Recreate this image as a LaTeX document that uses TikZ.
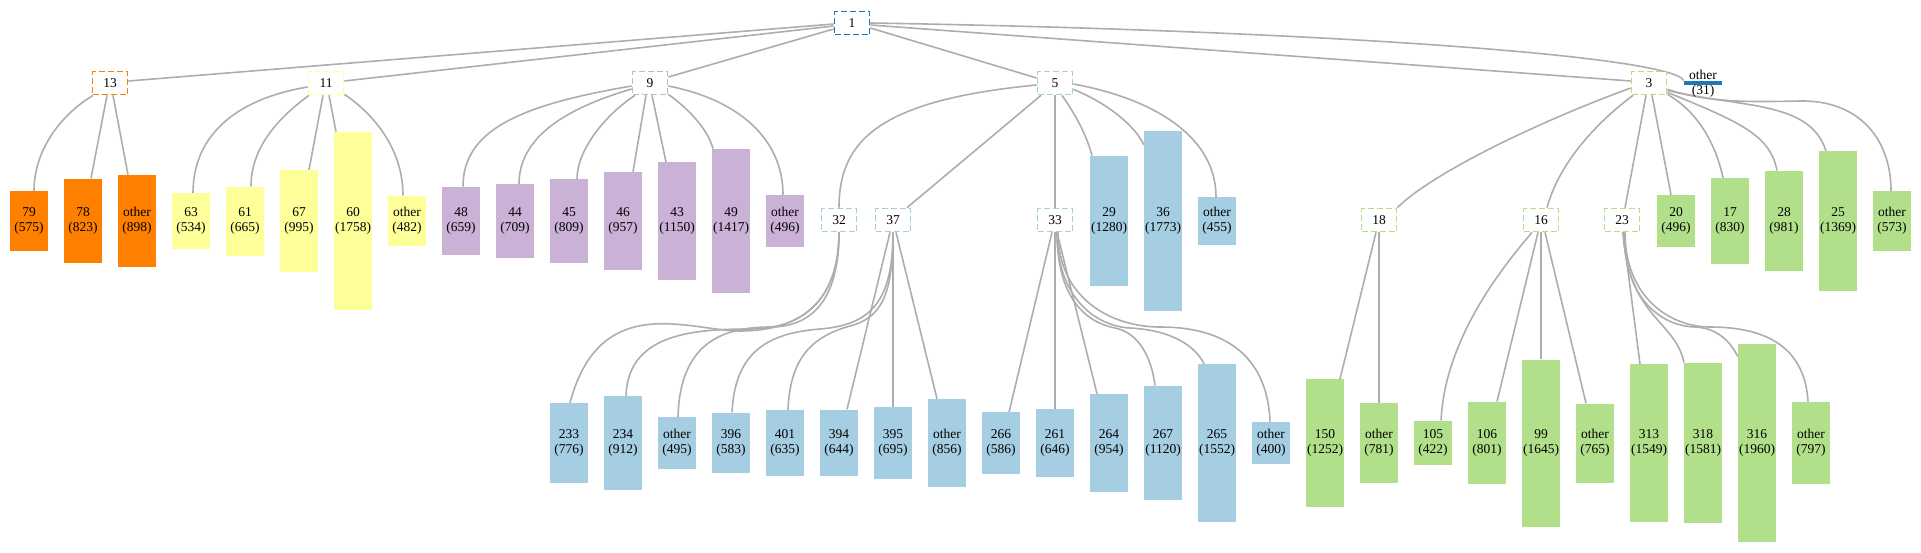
\documentclass[tikz,border=0pt]{standalone}
\usepackage{fontspec}
\setmainfont{Liberation Serif}
\usetikzlibrary{backgrounds}
\definecolor{cOr}{HTML}{FF7F00}
\definecolor{cYe}{HTML}{FFFF99}
\definecolor{cPu}{HTML}{CAB2D6}
\definecolor{cLb}{HTML}{A6CEE3}
\definecolor{cGr}{HTML}{B2DF8A}
\definecolor{cDb}{HTML}{1F78B4}
\definecolor{cEdge}{HTML}{ADADAD}
\newcommand\lf[6]{\node[leafbox, fill=#5, minimum height={0.1*#4+2.5}] (#1) at (#2,#3) {#6\\(#4)};}
\newcommand\grp[5]{\node[grpbox, draw=#4] (#1) at (#2,#3) {#5};}
\begin{document}
\begin{tikzpicture}[x=1pt,y=-1pt,
  font=\fontsize{13.5}{15}\selectfont,
  leafbox/.style={rectangle, inner sep=0pt, minimum width=38pt, align=center},
  grpbox/.style={rectangle, fill=white, line width=1.7pt, dash pattern=on 6pt off 3pt, minimum width=35pt, minimum height=23pt, inner sep=0pt},
  edge/.style={draw=cEdge, line width=1.6pt}]
\useasboundingbox (0,0) rectangle (1921,552);

% group nodes
\grp{n1}{852}{23}{cDb}{1}
\grp{n13}{110}{83}{cOr}{13}
\grp{n11}{326}{83}{cYe}{11}
\grp{n9}{650}{83}{cPu}{9}
\grp{n5}{1055}{83}{cLb}{5}
\grp{n3}{1649}{83}{cGr}{3}
\grp{n32}{839}{220}{cLb}{32}
\grp{n37}{893}{220}{cLb}{37}
\grp{n33}{1055}{220}{cLb}{33}
\grp{n18}{1379}{220}{cGr}{18}
\grp{n16}{1541}{220}{cGr}{16}
\grp{n23}{1622}{220}{cGr}{23}

% other (31)
\node[leafbox, fill=cDb, minimum height=4.5pt] (o31) at (1703,83) {};
\node[inner sep=0pt, align=center] (t31) at (1703,84) {other\\(31)};

% row 1 leaves
\lf{l79}{29}{221}{575}{cOr}{79}
\lf{l78}{83}{221}{823}{cOr}{78}
\lf{o13}{137}{221}{898}{cOr}{other}
\lf{l63}{191}{221}{534}{cYe}{63}
\lf{l61}{245}{221}{665}{cYe}{61}
\lf{l67}{299}{221}{995}{cYe}{67}
\lf{l60}{353}{221}{1758}{cYe}{60}
\lf{o11}{407}{221}{482}{cYe}{other}
\lf{l48}{461}{221}{659}{cPu}{48}
\lf{l44}{515}{221}{709}{cPu}{44}
\lf{l45}{569}{221}{809}{cPu}{45}
\lf{l46}{623}{221}{957}{cPu}{46}
\lf{l43}{677}{221}{1150}{cPu}{43}
\lf{l49}{731}{221}{1417}{cPu}{49}
\lf{o9}{785}{221}{496}{cPu}{other}
\lf{l29}{1109}{221}{1280}{cLb}{29}
\lf{l36}{1163}{221}{1773}{cLb}{36}
\lf{o5}{1217}{221}{455}{cLb}{other}
\lf{l20}{1676}{221}{496}{cGr}{20}
\lf{l17}{1730}{221}{830}{cGr}{17}
\lf{l28}{1784}{221}{981}{cGr}{28}
\lf{l25}{1838}{221}{1369}{cGr}{25}
\lf{o3}{1892}{221}{573}{cGr}{other}

% row 2 leaves
\lf{l233}{569}{443}{776}{cLb}{233}
\lf{l234}{623}{443}{912}{cLb}{234}
\lf{o32}{677}{443}{495}{cLb}{other}
\lf{l396}{731}{443}{583}{cLb}{396}
\lf{l401}{785}{443}{635}{cLb}{401}
\lf{l394}{839}{443}{644}{cLb}{394}
\lf{l395}{893}{443}{695}{cLb}{395}
\lf{o37}{947}{443}{856}{cLb}{other}
\lf{l266}{1001}{443}{586}{cLb}{266}
\lf{l261}{1055}{443}{646}{cLb}{261}
\lf{l264}{1109}{443}{954}{cLb}{264}
\lf{l267}{1163}{443}{1120}{cLb}{267}
\lf{l265}{1217}{443}{1552}{cLb}{265}
\lf{o33}{1271}{443}{400}{cLb}{other}
\lf{l150}{1325}{443}{1252}{cGr}{150}
\lf{o18}{1379}{443}{781}{cGr}{other}
\lf{l105}{1433}{443}{422}{cGr}{105}
\lf{l106}{1487}{443}{801}{cGr}{106}
\lf{l99}{1541}{443}{1645}{cGr}{99}
\lf{o16}{1595}{443}{765}{cGr}{other}
\lf{l313}{1649}{443}{1549}{cGr}{313}
\lf{l318}{1703}{443}{1581}{cGr}{318}
\lf{l316}{1757}{443}{1960}{cGr}{316}
\lf{o23}{1811}{443}{797}{cGr}{other}

\begin{scope}[on background layer]
% root edges
\draw[edge] ([yshift=-1pt]n1.west) -- ([yshift=2pt]n13.east);
\draw[edge] ([yshift=-3pt]n1.west) -- ([yshift=2pt]n11.east);
\draw[edge] ([yshift=-6pt]n1.west) -- ([yshift=6pt]n9.east);
\draw[edge] ([yshift=-5pt]n1.east) -- ([yshift=5pt]n5.west);
\draw[edge] ([yshift=-2pt]n1.east) -- ([yshift=2pt]n3.west);
\draw[edge] (n1.east) .. controls (1300,30) and (1670,55) .. (o31.north west);
% 13
\draw[edge] ([xshift=-17pt]n13.south) .. controls +(-33,20) and +(0,-40) .. ([xshift=5pt]l79.north);
\draw[edge] ([xshift=-3pt]n13.south) -- ([xshift=8pt]l78.north);
\draw[edge] ([xshift=3pt]n13.south) -- ([xshift=-9pt]o13.north);
% 11
\draw[edge] ([yshift=-4pt]n11.west) .. controls (230,100) and (193,140) .. ([xshift=2pt]l63.north);
\draw[edge] ([xshift=-17pt]n11.south) .. controls (275,120) and (251,150) .. ([xshift=6pt]l61.north);
\draw[edge] ([xshift=-3pt]n11.south) -- ([xshift=10pt]l67.north);
\draw[edge] ([xshift=3pt]n11.south) -- ([xshift=-17pt]l60.north);
\draw[edge] ([yshift=1pt]n11.south east) .. controls (375,115) and (403,150) .. ([xshift=-4pt]o11.north);
% 9
\draw[edge] ([yshift=-3pt]n9.west) .. controls (520,105) and (463,130) .. ([xshift=2pt]l48.north);
\draw[edge] ([yshift=-6pt]n9.west) .. controls (560,110) and (519,140) .. ([xshift=4pt]l44.north);
\draw[edge] ([xshift=-15pt]n9.south) .. controls (605,115) and (577,150) .. ([xshift=8pt]l45.north);
\draw[edge] ([xshift=-4pt]n9.south) -- ([xshift=10pt]l46.north);
\draw[edge] ([xshift=2pt]n9.south) -- ([xshift=-11pt]l43.north);
\draw[edge] ([yshift=1pt]n9.south east) .. controls (690,110) and (708,130) .. ([xshift=-18pt]l49.north);
\draw[edge] ([yshift=-3pt]n9.east) .. controls (740,100) and (783,140) .. ([xshift=-2pt]o9.north);
% 5
\draw[edge] ([yshift=-2pt]n5.west) .. controls (880,100) and (839,140) .. (n32.north);
\draw[edge] ([xshift=-14pt]n5.south) -- ([xshift=14pt]n37.north);
\draw[edge] (n5.south) -- (n33.north);
\draw[edge] ([xshift=7pt]n5.south) .. controls (1072,110) and (1085,130) .. ([xshift=-17pt]l29.north);
\draw[edge] ([yshift=6pt]n5.south east) .. controls (1105,102) and (1135,125) .. ([yshift=-14pt]l36.north west);
\draw[edge] ([yshift=-1pt]n5.east) .. controls (1160,100) and (1216,140) .. ([xshift=-1pt]o5.north);
% 3
\draw[edge] ([yshift=-5pt]n3.west) .. controls (1530,125) and (1430,175) .. (n18.north east);
\draw[edge] ([xshift=-16pt]n3.south) .. controls (1600,120) and (1560,160) .. ([xshift=6pt]n16.north);
\draw[edge] ([xshift=-3pt]n3.south) -- ([xshift=3pt]n23.north);
\draw[edge] ([xshift=3pt]n3.south) -- ([xshift=-5pt]l20.north);
\draw[edge] ([yshift=1pt]n3.south east) .. controls (1695,110) and (1715,140) .. ([xshift=-7pt]l17.north);
\draw[edge] ([yshift=3pt]n3.south east) .. controls (1740,122) and (1770,135) .. ([xshift=-7pt]l28.north);
\draw[edge] ([yshift=5pt]n3.south east) .. controls (1740,108) and (1810,100) .. ([xshift=-12pt]l25.north);
\draw[edge] ([yshift=6pt]n3.south east) .. controls (1710,103) and (1750,102) .. (1800,101) .. controls (1860,100) and (1891,140) .. ([xshift=-1pt]o3.north);
% 32
\draw[edge] (n32.south) .. controls +(0,70) and (800,331) .. (740,331) .. controls (690,331) and (600,290) .. ([xshift=1pt]l233.north);
\draw[edge] (n32.south) .. controls +(0,70) and (800,329) .. (750,329) .. controls (690,329) and (628,335) .. ([xshift=3pt]l234.north);
\draw[edge] (n32.south) .. controls +(0,70) and (810,327) .. (770,327) .. controls (720,327) and (680,345) .. ([xshift=1pt]o32.north);
% 37
\draw[edge] (n37.south) .. controls +(0,70) and (870,325) .. (820,329) .. controls (770,333) and (735,350) .. ([xshift=1pt]l396.north);
\draw[edge] (n37.south) .. controls +(0,65) and (880,318) .. (850,326) .. controls (810,337) and (790,360) .. ([xshift=3pt]l401.north);
\draw[edge] ([xshift=-3pt]n37.south) -- ([xshift=8pt]l394.north);
\draw[edge] (n37.south) -- (l395.north);
\draw[edge] ([xshift=3pt]n37.south) -- ([xshift=-10pt]o37.north);
% 33
\draw[edge] ([xshift=-3pt]n33.south) -- ([xshift=8pt]l266.north);
\draw[edge] (n33.south) -- (l261.north);
\draw[edge] ([xshift=2pt]n33.south) -- ([xshift=-12pt]l264.north);
\draw[edge] ([xshift=2pt]n33.south) .. controls +(0,65) and (1085,322) .. (1115,328) .. controls (1140,333) and (1152,360) .. ([xshift=-8pt]l267.north);
\draw[edge] ([xshift=2pt]n33.south) .. controls +(0,65) and (1095,326) .. (1130,328) .. controls (1170,330) and (1195,345) .. ([xshift=-13pt]l265.north);
\draw[edge] ([xshift=3pt]n33.south) .. controls +(0,65) and (1110,327) .. (1160,327) .. controls (1240,327) and (1268,370) .. ([xshift=-1pt]o33.north);
% 18
\draw[edge] ([xshift=-3pt]n18.south) -- ([xshift=15pt]l150.north);
\draw[edge] (n18.south) -- (o18.north);
% 16
\draw[edge] ([xshift=-9pt]n16.south) .. controls (1500,270) and (1445,340) .. ([xshift=8pt]l105.north);
\draw[edge] ([xshift=-3pt]n16.south) -- ([xshift=10pt]l106.north);
\draw[edge] (n16.south) -- (l99.north);
\draw[edge] ([xshift=4pt]n16.south) -- ([xshift=-9pt]o16.north);
% 23
\draw[edge] ([xshift=1pt]n23.south) -- ([xshift=-9pt]l313.north);
\draw[edge] ([xshift=1pt]n23.south) .. controls +(5,85) and (1675,320) .. ([xshift=-19pt]l318.north);
\draw[edge] ([xshift=2pt]n23.south) .. controls +(0,65) and (1660,326) .. (1695,327) .. controls (1720,328) and (1732,345) .. ([yshift=-13pt]l316.north west);
\draw[edge] ([xshift=3pt]n23.south) .. controls +(0,65) and (1670,327) .. (1710,327) .. controls (1770,327) and (1805,350) .. ([xshift=-3pt]o23.north);
\end{scope}
\end{tikzpicture}
\end{document}
